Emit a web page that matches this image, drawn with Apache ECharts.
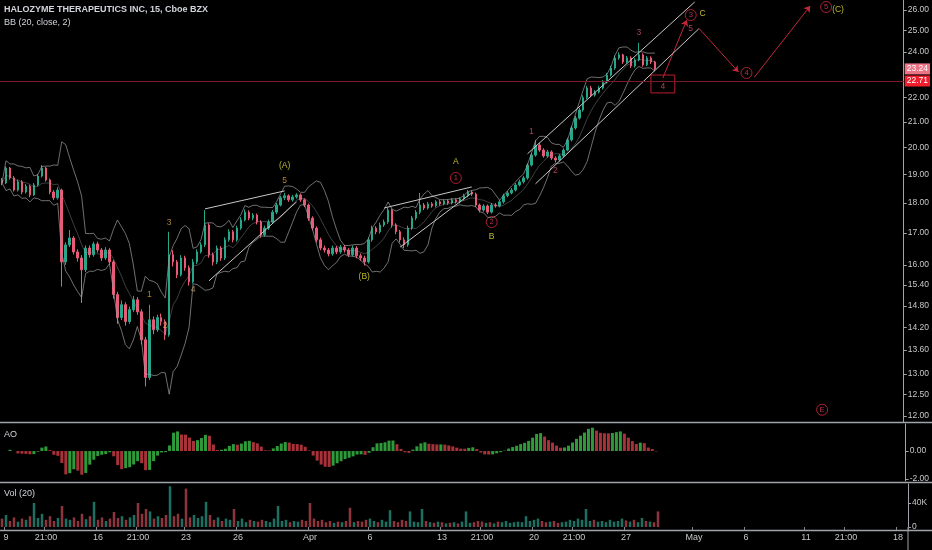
<!DOCTYPE html>
<html><head><meta charset="utf-8">
<script src="https://cdn.jsdelivr.net/npm/echarts@6/dist/echarts.min.js"></script>
<style>html,body{margin:0;padding:0;background:#000;}#c{width:932px;height:550px;}</style>
</head><body><div id="c"></div><script>
// ---------- data ----------
const firstOpen = 18.80;
const closes = [18.70,19.24,18.88,18.45,18.74,18.38,18.59,18.28,18.63,18.95,
 19.24,18.81,18.38,18.18,18.45,16.09,16.62,16.84,16.40,16.21,
 15.85,16.52,16.31,16.65,16.46,16.21,16.46,16.09,15.12,14.47,
 14.83,14.36,14.69,14.97,14.63,13.87,12.91,14.41,14.14,14.47,
 14.36,14.00,16.31,16.09,15.70,16.21,15.91,15.49,16.09,16.40,
 16.62,17.26,16.31,16.09,16.52,16.21,16.78,17.04,16.78,17.16,
 17.43,17.69,17.49,17.59,17.36,16.94,17.16,17.36,17.69,17.93,
 18.18,18.25,18.11,18.21,18.28,18.11,17.93,17.49,17.16,16.78,
 16.52,16.46,16.34,16.52,16.40,16.55,16.46,16.31,16.52,16.28,
 16.21,16.09,16.78,17.16,17.04,17.26,17.36,17.76,17.26,17.04,
 16.78,16.62,17.16,17.49,17.69,17.93,17.83,17.97,17.90,18.04,
 17.97,18.07,18.00,18.11,18.04,18.14,18.25,18.38,18.31,17.93,
 17.76,17.90,17.69,17.93,17.90,18.04,18.25,18.35,18.45,18.63,
 18.74,18.88,19.35,19.72,20.10,19.91,19.69,19.84,19.61,19.54,
 19.69,19.91,20.30,20.77,21.16,21.49,22.00,22.41,22.11,22.24,
 22.41,22.66,22.97,23.28,23.73,23.87,23.55,23.73,23.37,23.64,
 23.87,23.42,23.73,23.55,23.24];
const highs = [18.88,19.30,19.28,18.95,18.82,18.80,18.66,18.64,18.70,19.02,
 19.35,19.28,18.86,18.45,18.55,18.50,16.70,17.10,16.90,16.48,
 16.30,16.60,16.60,16.72,16.72,16.52,16.55,16.52,16.15,15.20,
 14.95,14.90,14.78,15.08,15.05,14.70,13.95,14.83,14.50,14.55,
 14.58,14.42,17.04,16.45,16.15,16.30,16.28,15.98,16.18,16.48,
 16.70,17.76,17.32,16.38,16.60,16.58,16.86,17.12,17.10,17.24,
 17.52,17.78,17.75,17.66,17.64,17.42,17.24,17.44,17.76,18.00,
 18.25,18.35,18.30,18.28,18.34,18.33,18.16,17.98,17.55,17.22,
 16.85,16.60,16.52,16.60,16.58,16.62,16.62,16.52,16.60,16.58,
 16.35,16.28,16.86,17.24,17.22,17.34,17.44,17.84,17.80,17.32,
 17.10,16.86,17.24,17.56,17.76,18.35,18.00,18.04,18.03,18.10,
 18.10,18.13,18.12,18.17,18.16,18.20,18.32,18.45,18.44,18.36,
 17.98,17.96,17.95,18.00,18.00,18.10,18.32,18.42,18.52,18.70,
 18.82,18.95,19.42,19.80,20.30,20.18,19.98,19.92,19.90,19.68,
 19.76,19.98,20.38,20.85,21.25,21.58,22.10,22.50,22.50,22.32,
 22.50,22.75,23.06,23.38,23.84,23.98,23.92,23.82,23.80,23.72,
 24.42,23.94,23.82,23.80,23.60];
const lows = [18.62,18.66,18.82,18.40,18.40,18.30,18.33,18.20,18.24,18.58,
 18.90,18.75,18.30,18.10,18.12,15.35,16.00,16.55,16.32,16.10,
 14.88,15.78,16.22,16.25,16.38,16.12,16.15,16.00,15.00,14.30,
 14.40,14.25,14.30,14.62,14.55,13.75,12.69,12.85,14.02,14.08,
 14.25,13.87,13.95,15.95,15.60,15.65,15.82,15.38,15.44,16.02,
 16.35,16.55,16.22,15.98,16.02,16.12,16.15,16.72,16.70,16.72,
 17.10,17.38,17.42,17.42,17.28,16.85,16.88,17.10,17.30,17.62,
 17.88,18.10,18.04,18.05,18.15,18.04,17.86,17.40,17.08,16.70,
 16.45,16.38,16.26,16.28,16.33,16.34,16.38,16.24,16.26,16.20,
 16.12,15.98,16.04,16.72,16.96,16.98,17.20,17.30,17.18,16.96,
 16.70,16.52,16.56,17.10,17.42,17.62,17.76,17.78,17.84,17.85,
 17.91,17.92,17.94,17.95,17.98,17.99,18.08,18.20,18.24,17.86,
 17.68,17.70,17.62,17.64,17.84,17.85,17.98,18.20,18.30,18.40,
 18.58,18.68,18.82,19.30,19.66,19.84,19.62,19.62,19.54,19.45,
 19.48,19.64,19.86,20.24,20.70,21.10,21.42,21.94,22.02,22.04,
 22.18,22.35,22.60,22.90,23.20,23.65,23.46,23.48,23.28,23.30,
 23.58,23.34,23.36,23.46,23.16];
const volumesK = [14,20,10,16,9,14,12,18,40,15,
 22,12,18,10,15,35,14,12,16,10,
 22,13,18,42,12,16,10,14,25,15,
 18,12,16,20,40,22,30,26,14,18,
 15,20,68,18,22,14,64,16,20,15,
 18,42,20,12,16,10,14,12,30,10,
 14,8,12,10,9,12,10,8,14,35,
 10,12,8,10,9,12,10,40,14,10,
 12,8,10,7,9,8,10,32,8,10,
 9,12,14,10,8,12,9,28,10,8,
 12,10,26,9,8,30,10,8,7,9,
 8,6,7,8,6,9,26,7,8,10,
 9,7,8,6,9,8,10,7,8,9,
 8,18,10,12,14,10,8,9,10,7,
 8,9,12,10,14,12,30,10,12,9,
 10,8,12,9,10,14,11,9,12,8,
 15,10,9,8,26];
const refLine = 22.71;
const slotCount = 227;
const tickIndex = [1,11,24,34,46,59,77,92,110,120,133,143,156,173,186,201,211,224];
const tickText = ['9','21:00','16','21:00','23','26','Apr','6','13','21:00','20','21:00','27','May','6','11','21:00','18'];
const priceTicks = [12,12.5,13,13.6,14.2,14.8,15.4,16,17,18,19,20,21,22,24,25,26];
const aoTicks = [0,-2];
const volTicks = [0,40];
// drawings (index, price)
const greyLines = [[51,17.80,71,18.42],[52,15.52,74,18.04],[96,17.83,118,18.56],[100,16.55,118,18.35],[132,19.77,174,26.40],[134,18.67,175,25.08]];
const redArrows = [[166,22.84,171.5,25.51],[175,25.12,185,23.10],[188.75,22.88,202.75,26.20]];
const redBox = [163.25,22.97,168.75,22.20];
const waveTexts = [
 [36.75,15.11,'1','#d9a441'],[41.25,14.24,'2','#d9a441'],[41.75,17.33,'3','#d9a441'],[47.5,15.25,'4','#d9a441'],
 [70.75,18.77,'5','#d9a441'],[70.75,19.32,'(A)','#e6e03c'],[91.25,15.63,'(B)','#e6e03c'],
 [113.5,19.46,'A','#e6e03c'],[122.75,16.87,'B','#e6e03c'],
 [133.25,20.61,'1','#d8506a'],[139.25,19.13,'2','#d8506a'],[159.75,24.88,'3','#d8506a'],[172.5,25.08,'5','#d8506a'],
 [176,25.80,'C','#e6e03c'],[165.5,22.45,'4','#d8506a'],[209.5,26.00,'(C)','#e6e03c']];
const circledTexts = [[113.5,18.88,'1'],[122.5,17.36,'2'],[173.25,25.75,'3'],[187.25,23.06,'4'],[206.5,26.15,'5'],[206.25,12.14,'E']];
const bbPeriod = 7, bbMult = 2, aoFast = 2, aoSlow = 13;

// ---------- derived ----------
const n = closes.length;
const opens = closes.map((c,i)=> i===0 ? firstOpen : closes[i-1]);
const candles = closes.map((c,i)=>[opens[i], c, lows[i], highs[i]]);
const cats = Array.from({length:slotCount}, ()=> '');
tickIndex.forEach((k,j)=> cats[k] = tickText[j]);
const bbU=[], bbL=[], bbM=[];
for (let i=0;i<n;i++){
  const s = closes.slice(Math.max(0,i-bbPeriod+1), i+1);
  const m = s.reduce((a,b)=>a+b,0)/s.length;
  const sd = Math.sqrt(s.reduce((a,b)=>a+(b-m)*(b-m),0)/s.length);
  bbM.push(m); bbU.push(m+bbMult*sd); bbL.push(m-bbMult*sd);
}
const med = highs.map((h,i)=>(h+lows[i])/2);
const sma = (arr,i,p)=>{const s=arr.slice(Math.max(0,i-p+1),i+1);return s.reduce((a,b)=>a+b,0)/s.length;};
const ao = med.map((_,i)=> sma(med,i,aoFast)-sma(med,i,aoSlow));
const aoData = ao.map((v,i)=>({value:v, itemStyle:{color: (i===0||v>=ao[i-1]) ? '#2f9a3a' : '#a8323a'}}));
const volData = volumesK.map((v,i)=>({value:v, itemStyle:{color: closes[i]>=opens[i] ? 'rgba(38,150,130,0.75)' : 'rgba(190,70,80,0.75)'}}));

const FONT = "'Liberation Sans Narrow','Liberation Sans',Arial,sans-serif";
const xBase = (gi, showLabels)=>({
  type:'category', gridIndex:gi, data:cats, boundaryGap:true,
  axisLine:{show:false}, splitLine:{show:false},
  axisTick:{show:showLabels, interval:(i,v)=>v!=='', length:3, lineStyle:{color:'#888'}},
  axisLabel:{show:showLabels, interval:(i,v)=>v!=='', color:'#c8c8c8', fontSize:9, fontFamily:FONT, margin:6}
});
const yLab = {color:'#c8c8c8', fontSize:8.5, fontFamily:FONT, margin:4};

const series = [];
series.push({type:'candlestick', xAxisIndex:0, yAxisIndex:0, data:candles, barWidth:2,
  itemStyle:{color:'#26a68a', color0:'#e85a78', borderColor:'#26a68a', borderColor0:'#e85a78', borderWidth:1},
  markLine:{symbol:'none', silent:true, animation:false, data:[
    {yAxis:refLine, lineStyle:{color:'#7a1c26', width:1, type:'solid'},
     label:{show:true, position:'end', formatter:refLine.toFixed(2), color:'#fff', backgroundColor:'#f01e2c', padding:[1,2], fontSize:8.5, fontFamily:FONT, distance:1}},
    {yAxis:closes[n-1], lineStyle:{color:'rgba(0,0,0,0)', width:1, type:'solid'},
     label:{show:true, position:'end', formatter:closes[n-1].toFixed(2), color:'#fff', backgroundColor:'#ec7383', padding:[1,2], fontSize:8.5, fontFamily:FONT, distance:1}}
  ]}
});
[[bbU,0.9],[bbL,0.9],[bbM,0.5]].forEach(([d,o])=>series.push({type:'line', xAxisIndex:0, yAxisIndex:0, data:d, symbol:'none', silent:true,
  lineStyle:{color:'#9a9a9a', width:0.8, opacity:o}}));
greyLines.forEach(l=>series.push({type:'line', xAxisIndex:0, yAxisIndex:0, data:[[l[0],l[1]],[l[2],l[3]]], symbol:'none', silent:true,
  lineStyle:{color:'#c8c8c8', width:1}}));
series.push({type:'lines', coordinateSystem:'cartesian2d', xAxisIndex:0, yAxisIndex:0, symbol:['none','arrow'], symbolSize:6, silent:true,
  lineStyle:{color:'#c0283a', width:1, opacity:1}, data:redArrows.map(a=>({coords:[[a[0],a[1]],[a[2],a[3]]]}))});
series.push({type:'lines', coordinateSystem:'cartesian2d', xAxisIndex:0, yAxisIndex:0, polyline:true, symbol:'none', silent:true,
  lineStyle:{color:'#b8202e', width:1, opacity:1},
  data:[{coords:[[redBox[0],redBox[1]],[redBox[2],redBox[1]],[redBox[2],redBox[3]],[redBox[0],redBox[3]],[redBox[0],redBox[1]]]}]});
series.push({type:'scatter', xAxisIndex:0, yAxisIndex:0, symbolSize:0, silent:true,
  data:waveTexts.map(t=>({value:[t[0],t[1]], label:{show:true, position:'inside', formatter:t[2], color:t[3], fontSize:8.5, fontFamily:FONT}}))});
series.push({type:'scatter', xAxisIndex:0, yAxisIndex:0, symbol:'circle', symbolSize:11, silent:true,
  itemStyle:{color:'rgba(0,0,0,0)', borderColor:'#d0283e', borderWidth:1},
  data:circledTexts.map(t=>({value:[t[0],t[1]], label:{show:true, position:'inside', formatter:t[2], color:'#e0405a', fontSize:7.5, fontFamily:FONT}}))});
series.push({type:'bar', xAxisIndex:1, yAxisIndex:1, data:aoData, barWidth:3, silent:true});
series.push({type:'bar', xAxisIndex:2, yAxisIndex:2, data:volData, barWidth:2.5, silent:true});

const chart = echarts.init(document.getElementById('c'), null, {renderer:'canvas'});
const sep = y=>({type:'line', shape:{x1:0,y1:y,x2:932,y2:y}, style:{stroke:'#a0a3aa', lineWidth:1.5}, silent:true});
const txt = (x,y,t,fw)=>({type:'text', left:x, top:y, style:{text:t, fill:'#d1d4dc', font:(fw||'normal')+' 9px '+FONT}, silent:true});
chart.setOption({
  backgroundColor:'#000', animation:false,
  grid:[{left:0,right:24,top:0,height:422},{left:0,right:24,top:424,height:57},{left:0,right:24,top:484,height:43}],
  xAxis:[xBase(0,false), xBase(1,false), xBase(2,true)],
  yAxis:[
    {type:'log', gridIndex:0, position:'right', min:11.86, max:26.5, splitLine:{show:false},
     axisLine:{show:true, lineStyle:{color:'#a0a3aa'}},
     axisTick:{show:true, customValues:priceTicks, length:3, lineStyle:{color:'#a0a3aa'}},
     axisLabel:Object.assign({customValues:priceTicks, formatter:v=>Number(v).toFixed(2)}, yLab)},
    {type:'value', gridIndex:1, position:'right', min:-2.14, max:1.93, splitLine:{show:false},
     axisLine:{show:true, lineStyle:{color:'#a0a3aa'}},
     axisTick:{show:true, customValues:aoTicks, length:3, lineStyle:{color:'#a0a3aa'}},
     axisLabel:Object.assign({customValues:aoTicks, formatter:v=>Number(v).toFixed(2)}, yLab)},
    {type:'value', gridIndex:2, position:'right', min:0, max:71.7, splitLine:{show:false},
     axisLine:{show:true, lineStyle:{color:'#a0a3aa'}},
     axisTick:{show:true, customValues:volTicks, length:3, lineStyle:{color:'#a0a3aa'}},
     axisLabel:Object.assign({customValues:volTicks, formatter:v=> Number(v)===0 ? '0' : v+'K'}, yLab)}
  ],
  graphic:[
    sep(422.5), sep(482.5), sep(530.5),
    {type:'line', shape:{x1:908,y1:527,x2:908,y2:550}, style:{stroke:'#a0a3aa', lineWidth:1}, silent:true},
    txt(4,5,'HALOZYME THERAPEUTICS INC, 15, Cboe BZX','bold'),
    txt(4,18,'BB (20, close, 2)'),
    txt(4,430,'AO'),
    txt(4,489,'Vol (20)')
  ],
  series
});
</script></body></html>
